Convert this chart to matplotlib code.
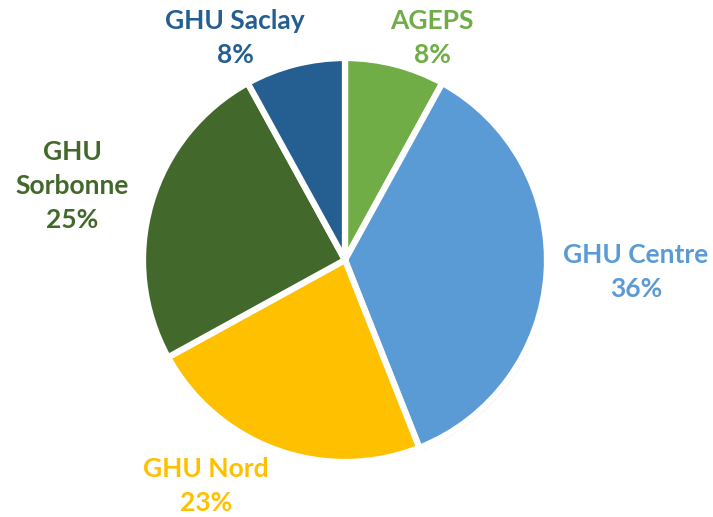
import matplotlib.pyplot as plt

# ----------------------------
# Data
# ----------------------------
labels = ['AGEPS', 'GHU Centre', 'GHU Nord', 'GHU\nSorbonne', 'GHU Saclay']
shares = [8, 36, 23, 25, 8]
colors = ['#70AD47', '#5B9BD5', '#FFC000', '#43682B', '#255E91']

# label centres in pixels of the original picture
label_px = [(432, 38), (636, 272), (206, 486), (72, 186), (235, 38)]

W, H = 713, 517
R = 202.0
cx, cy = 345, 260

plt.rcParams['font.family'] = ['Lato', 'DejaVu Sans']

fig = plt.figure(figsize=(W / 100, H / 100), dpi=100)
ax = fig.add_axes([0, 0, 1, 1])

#soft shadow behind the pie
ax.pie([1], colors=['#d9d9d9'], radius=1.0, center=(0.012, -0.012),
       wedgeprops=dict(linewidth=0, alpha=0.6))

#pie chart, clockwise from the top
ax.pie(shares, colors=colors, startangle=90, counterclock=False, radius=1,
       wedgeprops=dict(edgecolor='white', linewidth=4.5))

#labels with percentages
for lab, val, col, (px, py) in zip(labels, shares, colors, label_px):
    x = (px - cx) / R
    y = (cy - py) / R
    ax.text(x, y, f'{lab}\n{val}%', color=col, fontsize=19, fontweight='bold',
            ha='center', va='center', linespacing=1.5)

ax.set_xlim(-cx / R, (W - cx) / R)
ax.set_ylim(-(H - cy) / R, cy / R)
ax.set_aspect('equal')
ax.axis('off')

fig.savefig('out.png', dpi=100)
